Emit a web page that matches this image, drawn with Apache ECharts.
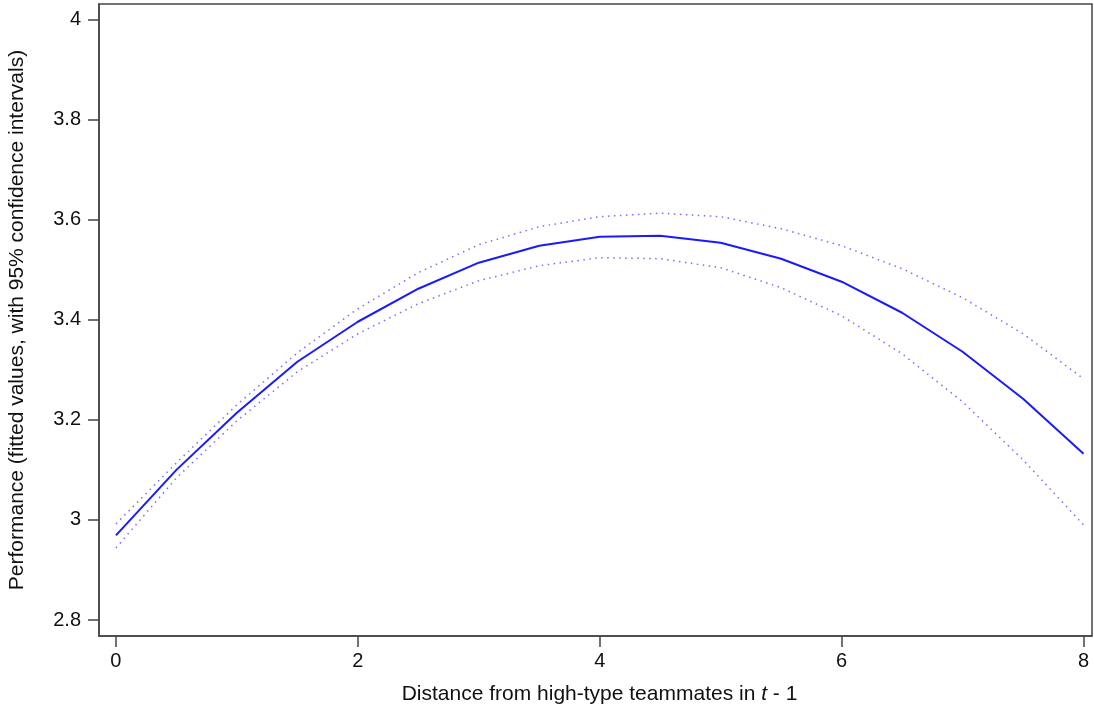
<!DOCTYPE html>
<html>
<head>
<meta charset="utf-8">
<script src="https://cdn.jsdelivr.net/npm/echarts@6/dist/echarts.min.js"></script>
<style>
  html, body { margin: 0; padding: 0; background: #fff; }
  #main { width: 1094px; height: 708px; }
</style>
</head>
<body>
<div id="main"></div>
<script>
// distance values (x) and fitted performance with 95% CI
const distance = [0, 0.5, 1, 1.5, 2, 2.5, 3, 3.5, 4, 4.5, 5, 5.5, 6, 6.5, 7, 7.5, 8];
const fitted = [2.969, 3.100, 3.214, 3.316, 3.396, 3.462, 3.514, 3.548, 3.566, 3.568, 3.554, 3.522, 3.476, 3.414, 3.336, 3.242, 3.132];
const upperCI = [2.992, 3.114, 3.230, 3.334, 3.422, 3.494, 3.550, 3.586, 3.606, 3.613, 3.606, 3.582, 3.548, 3.502, 3.444, 3.372, 3.282];
const lowerCI = [2.944, 3.084, 3.198, 3.296, 3.372, 3.432, 3.478, 3.508, 3.524, 3.522, 3.504, 3.464, 3.408, 3.332, 3.236, 3.120, 2.990];
const xTicks = [0, 2, 4, 6, 8];
const yTicks = [2.8, 3, 3.2, 3.4, 3.6, 3.8, 4];

const pairs = arr => distance.map((d, i) => [d, arr[i]]);

let myChart = echarts.init(document.getElementById('main'));
const font = "'Liberation Sans', Arial, sans-serif";
const axisColor = '#444';

myChart.setOption({
  animation: false,
  grid: {
    left: 99, right: 2, top: 4, bottom: 72,
    outerBoundsMode: 'none',
    show: true, borderColor: axisColor, borderWidth: 1.5
  },
  xAxis: {
    type: 'value',
    min: -0.14,
    max: 8.07,
    name: '{n|Distance from high-type teammates in }{i|t}{n| - 1}',
    nameLocation: 'middle',
    nameGap: 48,
    nameTextStyle: {
      verticalAlign: 'top',
      padding: [0, 0, 0, 8],
      rich: {
        n: { fontFamily: font, fontSize: 21, color: '#111' },
        i: { fontFamily: font, fontSize: 21, color: '#111', fontStyle: 'italic' }
      }
    },
    splitLine: { show: false },
    axisLine: { show: true, onZero: false, lineStyle: { color: axisColor, width: 1.5 } },
    axisTick: { show: true, customValues: xTicks, length: 11, lineStyle: { color: axisColor, width: 1.5 } },
    axisLabel: { customValues: xTicks, fontFamily: font, fontSize: 20, color: '#111', margin: 15 }
  },
  yAxis: {
    type: 'value',
    min: 2.768,
    max: 4.031,
    name: 'Performance (fitted values, with 95% confidence intervals)',
    nameLocation: 'middle',
    nameGap: 71,
    nameTextStyle: { fontFamily: font, fontSize: 21, color: '#111' },
    splitLine: { show: false },
    axisLine: { show: true, onZero: false, lineStyle: { color: axisColor, width: 1.5 } },
    axisTick: { show: true, customValues: yTicks, length: 11, lineStyle: { color: axisColor, width: 1.5 } },
    axisLabel: {
      customValues: yTicks, fontFamily: font, fontSize: 20, color: '#111', margin: 18,
      formatter: v => String(Math.round(v * 10) / 10)
    }
  },
  series: [
    {
      type: 'line', data: pairs(upperCI), symbol: 'none', silent: true,
      lineStyle: { color: '#7070ff', width: 1.5, type: [1.5, 4.5] }
    },
    {
      type: 'line', data: pairs(lowerCI), symbol: 'none', silent: true,
      lineStyle: { color: '#7070ff', width: 1.5, type: [1.5, 4.5] }
    },
    {
      type: 'line', data: pairs(fitted), symbol: 'none', silent: true,
      lineStyle: { color: '#1a1aff', width: 2 }
    }
  ]
});
</script>
</body>
</html>
